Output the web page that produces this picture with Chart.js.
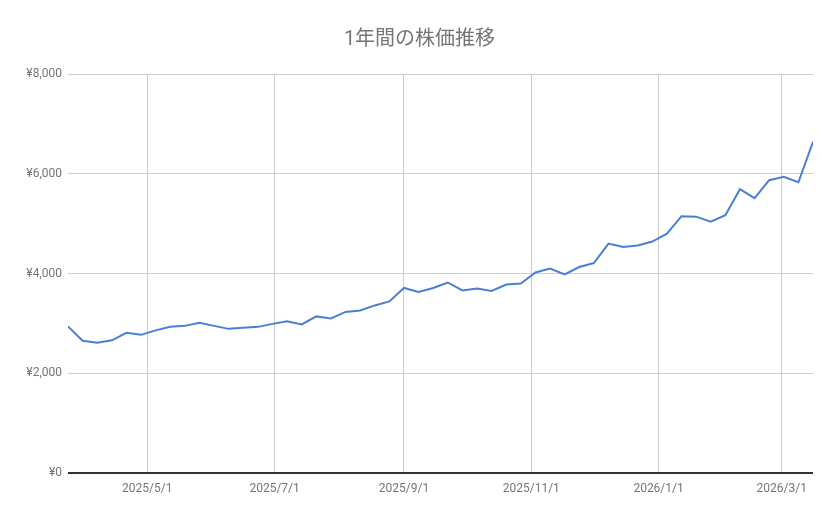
<!DOCTYPE html>
<html>
<head>
<meta charset="utf-8">
<script src="https://cdn.jsdelivr.net/npm/chart.js@4"></script>
<style>
    html, body { margin: 0; padding: 0; background: #ffffff; }
    #chart { display: block; }
</style>
</head>
<body>
<canvas id="chart" width="839" height="519"></canvas>
<script>
// weekly closing prices
var dates = [
    "2025-03-24", "2025-03-31", "2025-04-07", "2025-04-14", "2025-04-21", "2025-04-28",
    "2025-05-05", "2025-05-12", "2025-05-19", "2025-05-26", "2025-06-02", "2025-06-09",
    "2025-06-16", "2025-06-23", "2025-06-30", "2025-07-07", "2025-07-14", "2025-07-21",
    "2025-07-28", "2025-08-04", "2025-08-11", "2025-08-18", "2025-08-25", "2025-09-01",
    "2025-09-08", "2025-09-15", "2025-09-22", "2025-09-29", "2025-10-06", "2025-10-13",
    "2025-10-20", "2025-10-27", "2025-11-03", "2025-11-10", "2025-11-17", "2025-11-24",
    "2025-12-01", "2025-12-08", "2025-12-15", "2025-12-22", "2025-12-29", "2026-01-05",
    "2026-01-12", "2026-01-19", "2026-01-26", "2026-02-02", "2026-02-09", "2026-02-16",
    "2026-02-23", "2026-03-02", "2026-03-09", "2026-03-16"
];
var prices = [
    2940, 2650, 2610, 2660, 2810, 2770, 2860, 2930, 2950, 3010, 2950, 2890,
    2910, 2930, 2990, 3040, 2980, 3140, 3100, 3230, 3260, 3360, 3440, 3710,
    3630, 3710, 3820, 3660, 3700, 3650, 3780, 3800, 4020, 4100, 3980, 4130,
    4210, 4600, 4530, 4560, 4640, 4800, 5150, 5140, 5040, 5170, 5690, 5510,
    5870, 5940, 5830, 6640
];
var xTickDates = ["2025-05-01", "2025-07-01", "2025-09-01", "2025-11-01", "2026-01-01", "2026-03-01"];
var yTicks = [0, 2000, 4000, 6000, 8000];

var DAY = 86400000;
var startMs = toMs(dates[0]);

function toMs(s) {
    var p = s.split("-");
    return Date.UTC(Number(p[0]), Number(p[1]) - 1, Number(p[2]));
}
function dayOf(s) {
    return Math.round((toMs(s) - startMs) / DAY);
}
function labelOf(day) {
    var d = new Date(startMs + day * DAY);
    return d.getUTCFullYear() + "/" + (d.getUTCMonth() + 1) + "/" + d.getUTCDate();
}

var points = [];
for (var i = 0; i < dates.length; i++) {
    points.push({ x: dayOf(dates[i]), y: prices[i] });
}

var xTickValues = [];
for (var j = 0; j < xTickDates.length; j++) {
    xTickValues.push(dayOf(xTickDates[j]));
}

var tickFont = { family: "Roboto", size: 12 };
var grey = "#757575";

var ctx = document.getElementById("chart").getContext("2d");
new Chart(ctx, {
    type: "line",
    data: {
        datasets: [{
            data: points,
            borderColor: "#4a7fd6",
            borderWidth: 2,
            pointRadius: 0,
            tension: 0,
            fill: false
        }]
    },
    options: {
        responsive: false,
        animation: false,
        // equal side padding keeps the title centred on the canvas
        layout: { padding: { left: 26, right: 26, top: 0, bottom: 0 } },
        plugins: {
            legend: { display: false },
            tooltip: { enabled: false },
            title: {
                display: true,
                text: "1年間の株価推移",
                color: grey,
                font: { family: "Roboto, 'Noto Sans CJK JP'", size: 20, weight: "normal", lineHeight: 1.2 },
                padding: { top: 28, bottom: 22 }
            }
        },
        scales: {
            x: {
                type: "linear",
                min: 0,
                max: dayOf(dates[dates.length - 1]),
                afterBuildTicks: function (scale) {
                    scale.ticks = xTickValues.map(function (v) { return { value: v }; });
                },
                afterFit: function (scale) { scale.height = 46; },
                ticks: {
                    autoSkip: false,
                    maxRotation: 0,
                    padding: 9,
                    color: grey,
                    font: tickFont,
                    callback: function (v) { return labelOf(v); }
                },
                grid: { color: "#cccccc", lineWidth: 1, drawTicks: false },
                border: { display: false }
            },
            y: {
                min: 0,
                max: 8000,
                afterBuildTicks: function (scale) {
                    scale.ticks = yTicks.map(function (v) { return { value: v }; });
                },
                afterFit: function (scale) { scale.width = 42; },
                ticks: {
                    padding: 6,
                    color: grey,
                    font: tickFont,
                    callback: function (v) { return "¥" + Number(v).toLocaleString("en-US"); }
                },
                grid: {
                    drawTicks: false,
                    color: function (c) { return c.tick && c.tick.value === 0 ? "#333333" : "#cccccc"; },
                    lineWidth: function (c) { return c.tick && c.tick.value === 0 ? 2 : 1; }
                },
                border: { display: false }
            }
        }
    }
});
</script>
</body>
</html>
